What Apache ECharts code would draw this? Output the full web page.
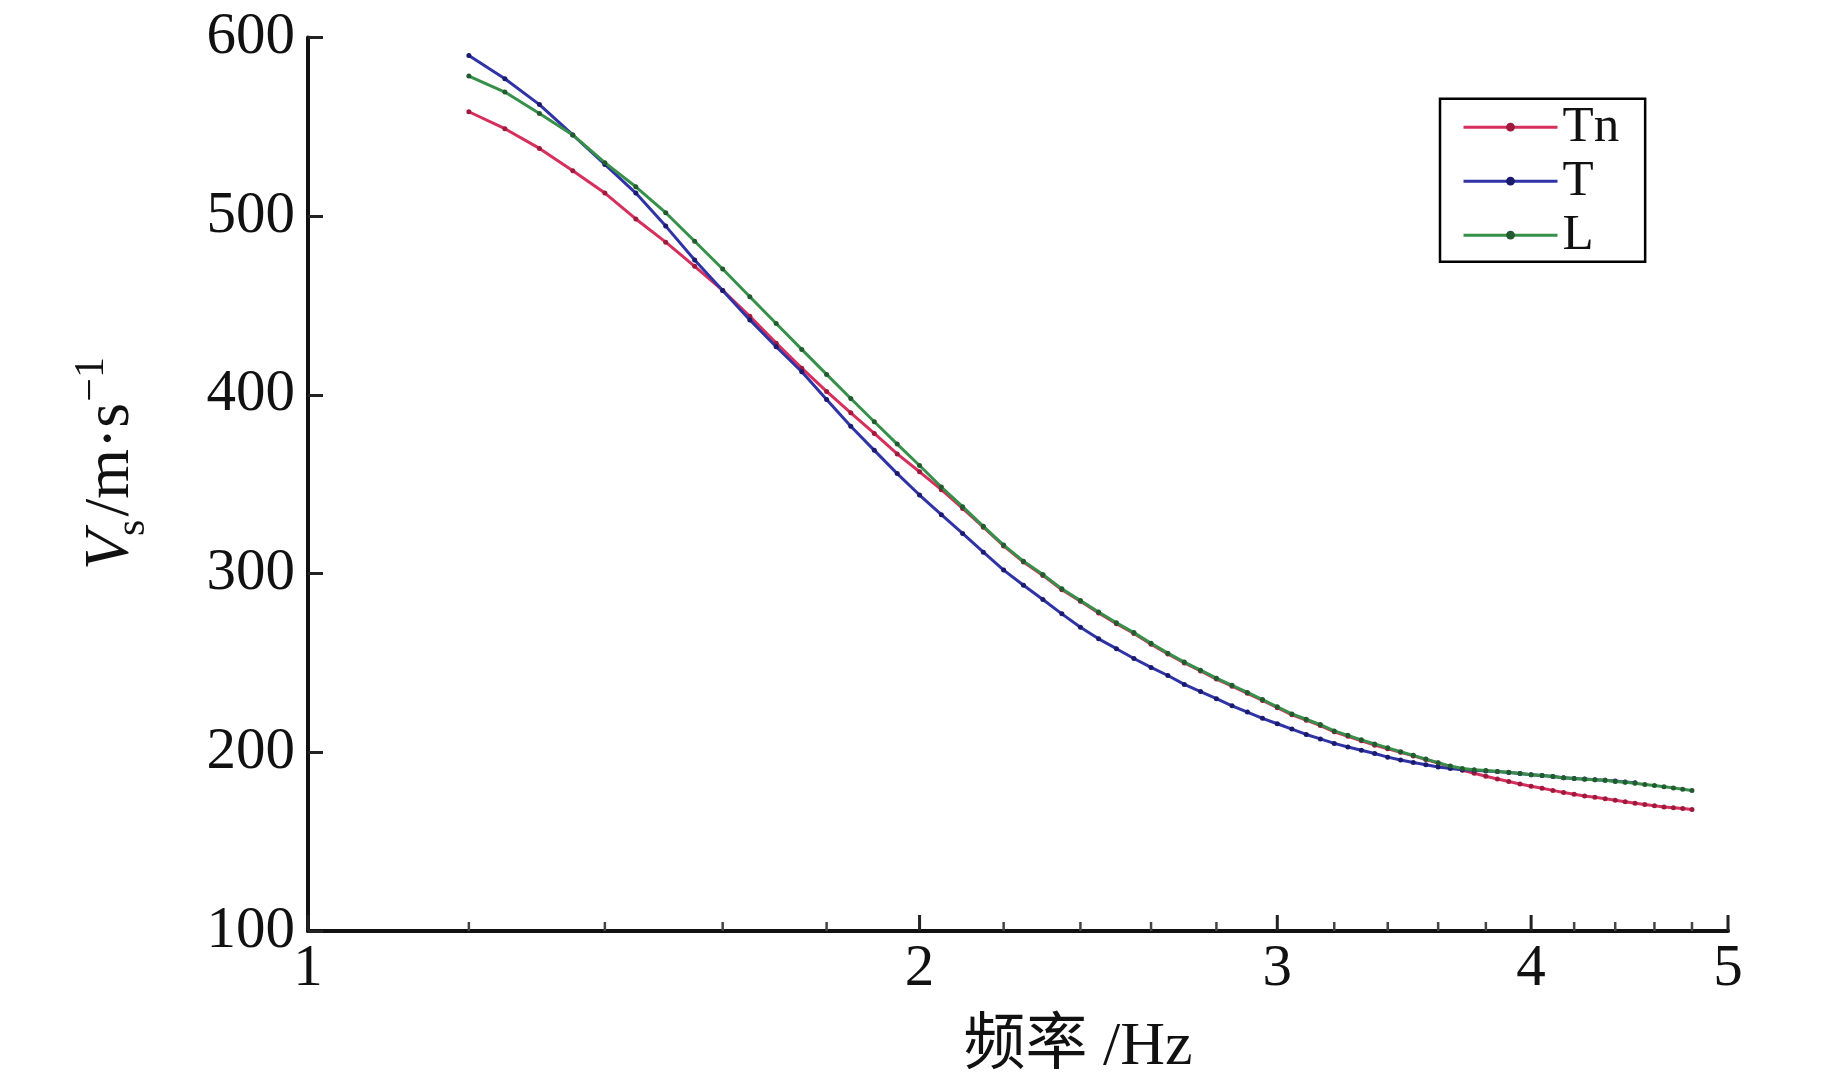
<!DOCTYPE html>
<html><head><meta charset="utf-8">
<script src="https://cdn.jsdelivr.net/npm/echarts@6/dist/echarts.min.js"></script>
<style>html,body{margin:0;padding:0;background:#fff}#c{width:1843px;height:1087px}</style>
</head><body><div id="c"></div>
<script>
// ---- data ----
const freq = [1.20,1.25,1.30,1.35,1.40,1.45,1.50,1.55,1.60,1.65,1.70,1.75,1.80,1.85,1.90,1.95,2.00,2.05,2.10,2.15,2.20,2.25,2.30,2.35,2.40,2.45,2.50,2.55,2.60,2.65,2.70,2.75,2.80,2.85,2.90,2.95,3.00,3.05,3.10,3.15,3.20,3.25,3.30,3.35,3.40,3.45,3.50,3.55,3.60,3.65,3.70,3.75,3.80,3.85,3.90,3.95,4.00,4.05,4.10,4.15,4.20,4.25,4.30,4.35,4.40,4.45,4.50,4.55,4.60,4.65,4.70,4.75,4.80];
const seriesNames = ['Tn', 'T', 'L'];
const tnValues = [558.5,549,538,525.5,513,498.5,485.5,472,458.5,444,
  429,415,402,390,378.5,367,357,347,336.5,326,
  315.5,306.5,299,291,284.5,278,272,266.5,260.5,255,
  250,245.5,241,237,233,229,225,221,218,215,
  211.5,209,206.5,204,202,200,198,196,194,192,
  190,188.3,186.6,185.1,183.7,182.3,181,179.9,178.7,177.5,
  176.5,175.6,174.8,174,173.2,172.3,171.5,170.8,170.1,169.4,
  169,168.5,168];
const tValues = [590,577,562.5,545.5,529,513,494.5,475.5,458.5,442,
  427,413,397.5,382.5,369,356,344,333,322.5,312,
  302,293.5,285.5,277.5,270,263.5,258,252.5,247.5,243,
  238,234,230,226,222.5,219,216,213,210,207.5,
  205,203,201.2,199.3,197.3,195.7,194.3,193,191.8,191,
  190.3,190,189.6,189.2,188.7,188.1,187.5,187,186.5,185.8,
  185.4,185,184.7,184.4,183.9,183.4,183];
const lValues = [578.5,569.5,557.5,545.5,530,516.5,502,486,470.5,455,
  440,425.5,411.5,398,385,372.5,360.5,348.5,337.5,326.5,
  316,307,299.5,291.5,285,278.5,272.5,267,261,255.5,
  250.5,246,241.5,237.5,233.5,229.5,225.5,221.5,218.5,215.5,
  212,209.5,207,204.7,202.5,200.3,198.3,196.2,194.2,192.3,
  190.9,190.3,189.8,189.3,188.8,188.1,187.5,187,186.5,185.7,
  185.3,184.9,184.6,184.4,183.7,183.2,182.7,182,181.4,180.7,
  180.1,179.3,178.6];
const xMajorTicks = [1, 2, 3, 4, 5];
const xMinorTicks = [1.2,1.4,1.6,1.8,2.2,2.4,2.6,2.8,3.2,3.4,3.6,3.8,4.2,4.4,4.6,4.8];
const yMin = 100, yMax = 600, yStep = 100;
const xAxisName = '频率 /Hz';
const yNameParts = ['V', 's', '/m·s', '−1'];

// ---- chart ----
const serifFam = '"Liberation Serif"';
const serif = '"Liberation Serif", "Times New Roman", serif';
const lineColors = ['#d62f5c', '#2f33a6', '#36904a'];
const dotColors = ['#9e1a3c', '#1a1a6e', '#235a30'];
const valueSets = [tnValues, tValues, lValues];

const chart = echarts.init(document.getElementById('c'), null, {renderer: 'canvas'});

const mctx = document.createElement('canvas').getContext('2d');
function tw(text, font) { mctx.font = font; return mctx.measureText(text).width; }

// y-axis title (V_s /m·s^-1), rotated
const fsMain = 64, fsSmall = 42;
const partFonts = [
  {italic: true, fs: fsMain, dy: 0, gapAfter: -5},
  {italic: false, fs: fsSmall, dy: 14, gapAfter: 3},
  {italic: false, fs: fsMain, dy: 0, gapAfter: 1},
  {italic: false, fs: fsSmall, dy: -27, gapAfter: 0}
];
let cursor = 0;
const yNameChildren = yNameParts.map((t, i) => {
  const pf = partFonts[i];
  const cssFont = (pf.italic ? 'italic ' : '') + pf.fs + 'px ' + serifFam;
  const st = {text: t, fontSize: pf.fs, fontFamily: serifFam, fill: '#111', align: 'left', verticalAlign: 'middle'};
  if (pf.italic) st.fontStyle = 'italic';
  const el = {type: 'text', x: cursor, y: pf.dy - 0.34 * pf.fs, style: st};
  cursor += tw(t, cssFont) + pf.gapAfter;
  return el;
});

const tickData = xMajorTicks.map(v => [v, yMin, 1]).concat(xMinorTicks.map(v => [v, yMin, 0]));

const option = {
  backgroundColor: '#fff',
  animation: false,
  grid: {left: 308, right: 115, top: 37.6, bottom: 156, containLabel: false},
  legend: {
    data: seriesNames,
    orient: 'vertical',
    left: 1440, top: 98.7,
    itemWidth: 94, itemHeight: 11, itemGap: 3,
    padding: [3, 26, 1, 22],
    borderColor: '#000', borderWidth: 2.5,
    lineStyle: {width: 3},
    textStyle: {fontFamily: serif, fontSize: 51, color: '#111'}
  },
  xAxis: {
    type: 'log', logBase: 10, min: 1, max: 5,
    name: xAxisName, nameLocation: 'middle', nameGap: 86,
    nameTextStyle: {fontFamily: '"Liberation Serif", "Noto Sans CJK SC", serif', fontSize: 62, color: '#111', padding: [0, 0, 0, 120]},
    axisLine: {show: true, lineStyle: {color: '#111', width: 4}},
    axisTick: {show: false}, axisLabel: {show: false}, splitLine: {show: false}, minorTick: {show: false}
  },
  yAxis: {
    type: 'value', min: yMin, max: yMax, interval: yStep,
    axisLine: {show: true, lineStyle: {color: '#111', width: 4}},
    axisTick: {show: true, inside: true, length: 15, lineStyle: {color: '#222', width: 3}},
    axisLabel: {fontFamily: serif, fontSize: 59, color: '#111', margin: 13},
    splitLine: {show: false}
  },
  graphic: [{
    type: 'group', x: 133, y: 570, rotation: Math.PI / 2,
    children: yNameChildren
  }],
  series: seriesNames.map((name, k) => ({
    name: name, type: 'line',
    data: valueSets[k].map((v, i) => [freq[i], v]),
    symbol: 'circle', symbolSize: 5, showSymbol: true,
    lineStyle: {color: lineColors[k], width: 3},
    itemStyle: {color: dotColors[k], borderWidth: 0},
    color: lineColors[k],
    z: 3 + k
  })).concat([{
    type: 'custom', name: 'xticks', silent: true, clip: false, z: 10,
    encode: {x: 0, y: 1},
    data: tickData,
    renderItem: function (params, api) {
      const v = api.value(0), major = api.value(2) === 1;
      const p = api.coord([v, yMin]);
      const len = major ? 16 : 9;
      const children = [{
        type: 'line',
        shape: {x1: p[0], y1: p[1], x2: p[0], y2: p[1] - len},
        style: {stroke: major ? '#222' : '#444', lineWidth: major ? 3 : 2.5}
      }];
      if (major) {
        children.push({
          type: 'text',
          style: {text: String(v), x: p[0], y: p[1] + 9, font: '59px ' + serif, fill: '#111',
                  align: 'center', verticalAlign: 'top', textAlign: 'center', textVerticalAlign: 'top'}
        });
      }
      return {type: 'group', children: children};
    }
  }])
};
chart.setOption(option);
</script>
</body></html>
